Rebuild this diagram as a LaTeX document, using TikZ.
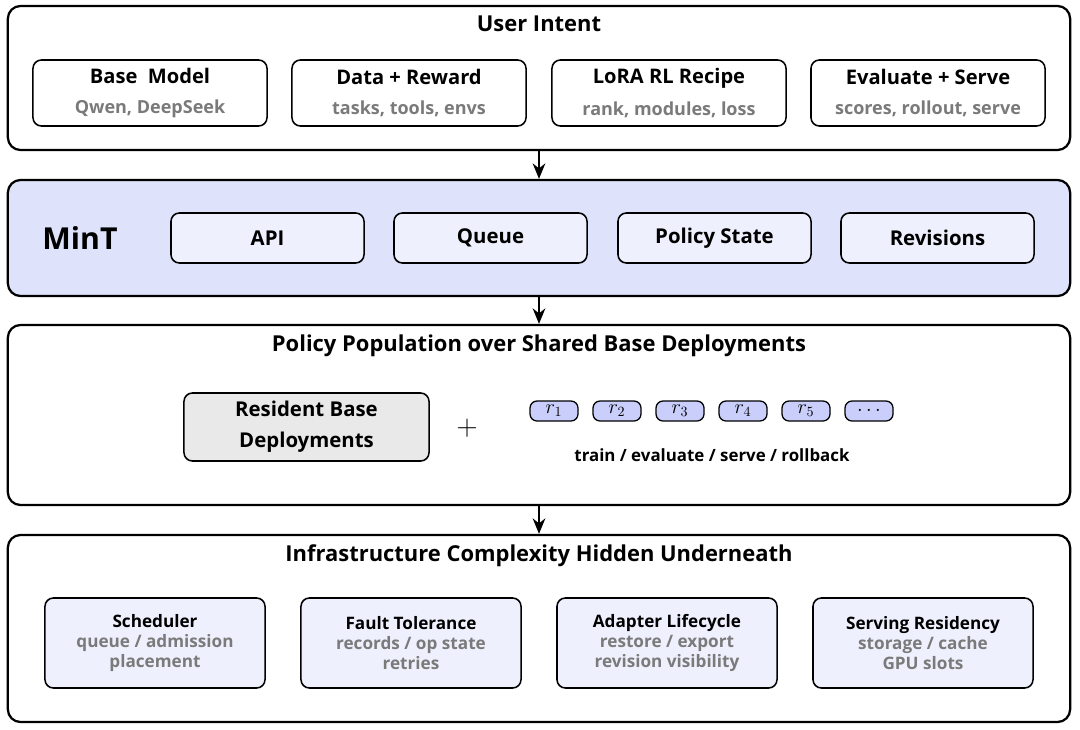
\documentclass[tikz,border=0pt]{standalone}
\usepackage{fontspec}
\setmainfont{Open Sans}
\usetikzlibrary{positioning,arrows.meta}
\definecolor{bandblue}{HTML}{DEE3FB}
\definecolor{paleblue}{HTML}{EEF1FD}
\definecolor{loraBlue}{HTML}{C9CEFB}
\definecolor{residentgray}{HTML}{E9E9E9}
\definecolor{subgray}{HTML}{7A7A7A}

\begin{document}
\begin{tikzpicture}[x=0.025cm,y=-0.025cm,
    layer/.style={draw,line width=1.6pt,rounded corners=9pt,
        minimum width=26.55cm,inner sep=0pt},
    title/.style={font={\fontsize{15.6}{18}\selectfont\bfseries}},
    intent/.style={draw,line width=1.1pt,rounded corners=6pt,fill=white,
        minimum width=5.85cm,minimum height=1.65cm,align=center},
    part/.style={draw,line width=1.1pt,rounded corners=6pt,fill=paleblue,
        minimum width=4.825cm,minimum height=1.25cm,
        font={\fontsize{14.5}{16}\selectfont\bfseries}},
    hidden/.style={draw,line width=1.1pt,rounded corners=6pt,fill=paleblue,
        minimum width=5.5cm,minimum height=2.25cm,align=center,
        font={\fontsize{12.2}{14}\selectfont\bfseries}},
    adapter/.style={draw,line width=0.9pt,rounded corners=5pt,fill=loraBlue,
        minimum width=1.2cm,minimum height=0.5cm,inner sep=0pt,
        font={\fontsize{14}{14}\selectfont}},
    flow/.style={-{Stealth[length=11pt,width=9pt]},line width=1.4pt}]
\useasboundingbox (0,0) rectangle (1080,730);

% layers
\node[layer,minimum height=3.6cm] (intentL) at (539,78) {};
\node[layer,minimum height=2.9cm,fill=bandblue] (mintL) at (539,238) {};
\node[layer,minimum height=4.5cm] (popL) at (539,415) {};
\node[layer,minimum height=4.675cm] (infraL) at (539,628.5) {};

\draw[flow] (intentL.south) -- (mintL.north);
\draw[flow] (mintL.south) -- (popL.north);
\draw[flow] (popL.south) -- (infraL.north);

% user intent
\node[title] (intentT) at (539,24) {User Intent};
\node[intent] (base) at (150,93) {{\fontsize{14.3}{16}\selectfont\bfseries Base\ \ Model}\\[9pt]
    {\fontsize{12.8}{14}\selectfont\bfseries\color{subgray}Qwen,\ DeepSeek}};
\node[intent] (data) at (409,93) {{\fontsize{14.3}{16}\selectfont\bfseries Data\ +\ Reward}\\[9pt]
    {\fontsize{12.8}{14}\selectfont\bfseries\color{subgray}tasks,\ tools,\ envs}};
\node[intent] (recipe) at (669,93) {{\fontsize{14.3}{16}\selectfont\bfseries LoRA\ RL\ Recipe}\\[9pt]
    {\fontsize{12.8}{14}\selectfont\bfseries\color{subgray}rank,\ modules,\ loss}};
\node[intent] (evalserve) at (928,93) {{\fontsize{14.3}{16}\selectfont\bfseries Evaluate\ +\ Serve}\\[9pt]
    {\fontsize{12.8}{14}\selectfont\bfseries\color{subgray}scores,\ rollout,\ serve}};

% MinT
\node[font={\fontsize{21.5}{24}\selectfont\bfseries}] (mint) at (80,238) {MinT};
\node[part] (api) at (267.5,238) {API};
\node[part] (queue) at (490.5,238) {Queue};
\node[part] (policy) at (714.5,238) {Policy\ State};
\node[part] (revisions) at (937.5,238) {Revisions};

% population
\node[title] (popT) at (539,346) {Policy Population over Shared Base Deployments};
\node[draw,line width=1.1pt,rounded corners=6pt,fill=residentgray,
    minimum width=6.125cm,minimum height=1.7cm,align=center,
    font={\fontsize{14.5}{22}\selectfont\bfseries}] (resident) at (306.5,427)
    {Resident\ Base\\Deployments};
\node[font={\fontsize{22}{22}\selectfont}] (plus) at (467,428) {$+$};
\foreach \i/\xx in {1/554,2/617,3/680,4/743,5/806}
    \node[adapter] (r\i) at (\xx,411) {$r_{\i}$};
\node[adapter] (rmore) at (869,411) {$\cdots$};
\node[font={\fontsize{12}{13}\selectfont\bfseries}] (ops) at (712,455)
    {train / evaluate / serve / rollback};

% infrastructure
\node[title] (infraT) at (539,556) {Infrastructure Complexity Hidden Underneath};
\node[hidden] (sched) at (155,643) {Scheduler\\
    \color{subgray}queue / admission\\\color{subgray}placement};
\node[hidden] (fault) at (411,643) {Fault Tolerance\\
    \color{subgray}records / op state\\\color{subgray}retries};
\node[hidden] (lifecycle) at (667,643) {Adapter Lifecycle\\
    \color{subgray}restore / export\\\color{subgray}revision visibility};
\node[hidden] (residency) at (923,643) {Serving Residency\\
    \color{subgray}storage / cache\\\color{subgray}GPU slots};
\end{tikzpicture}
\end{document}
